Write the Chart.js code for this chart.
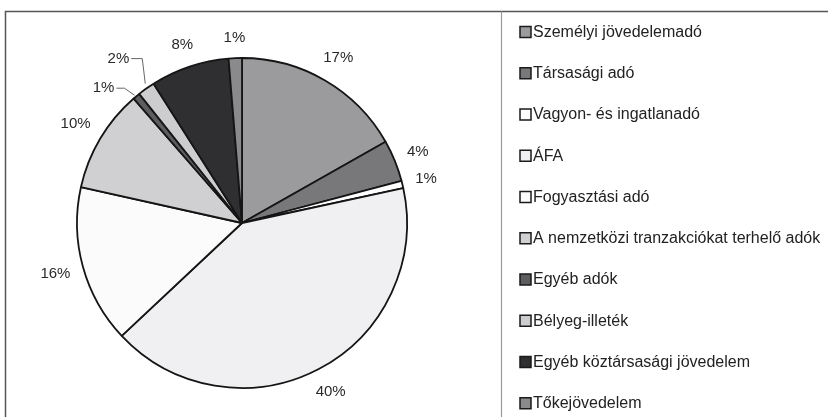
<!DOCTYPE html>
<html>
<head>
<meta charset="utf-8">
<script src="https://cdn.jsdelivr.net/npm/chart.js@4.4.1/dist/chart.umd.min.js"></script>
<style>
  html, body { margin: 0; padding: 0; background: #ffffff; overflow: hidden; }
  #wrap { position: relative; width: 828px; height: 417px; }
</style>
</head>
<body>
<div id="wrap"><canvas id="c" width="828" height="417"></canvas></div>
<script>
// ---- data ----
const categories = [
  "Személyi jövedelemadó",
  "Társasági adó",
  "Vagyon- és ingatlanadó",
  "ÁFA",
  "Fogyasztási adó",
  "A nemzetközi tranzakciókat terhelő adók",
  "Egyéb adók",
  "Bélyeg-illeték",
  "Egyéb köztársasági jövedelem",
  "Tőkejövedelem"
];
const shares = [16.8, 4.1, 0.7, 41.4, 15.5, 10.1, 0.7, 1.7, 7.7, 1.3];
const shareLabels = ["17%", "4%", "1%", "40%", "16%", "10%", "1%", "2%", "8%", "1%"];
const sliceColors = [
  "#9b9b9d", "#78787b", "#ffffff", "#f0f0f2", "#fbfbfb",
  "#d0d0d2", "#5d5d60", "#cdcdcf", "#2f2f31", "#8a8a8d"
];

const LABEL_FONT = '15px "Liberation Sans", Arial, sans-serif';
const LEGEND_FONT = '16px "Liberation Sans", Arial, sans-serif';

// frame around chart
const framePlugin = {
  id: 'frame',
  beforeDraw(chart) {
    const ctx = chart.ctx;
    ctx.save();
    ctx.fillStyle = '#ffffff';
    ctx.fillRect(0, 0, chart.width, chart.height);
    ctx.strokeStyle = '#555555';
    ctx.lineWidth = 1.5;
    ctx.beginPath();
    ctx.moveTo(5.5, chart.height);
    ctx.lineTo(5.5, 11.5);
    ctx.lineTo(chart.width, 11.5);
    ctx.stroke();
    ctx.strokeStyle = '#9a9a9a';
    ctx.lineWidth = 1.2;
    ctx.beginPath();
    ctx.moveTo(501.5, 11.5);
    ctx.lineTo(501.5, chart.height);
    ctx.stroke();
    ctx.restore();
  }
};

// percentage labels outside the slices
const outsideLabels = {
  id: 'outsideLabels',
  afterDatasetsDraw(chart, args, opts) {
    const ctx = chart.ctx;
    const meta = chart.getDatasetMeta(0);
    ctx.save();
    ctx.font = LABEL_FONT;
    ctx.fillStyle = '#2a2a2a';
    ctx.textBaseline = 'middle';
    ctx.textAlign = 'center';
    meta.data.forEach((arc, i) => {
      const p = arc.getProps(['x', 'y', 'startAngle', 'endAngle', 'outerRadius'], true);
      const a = (p.startAngle + p.endAngle) / 2;
      const cx = Math.cos(a), cy = Math.sin(a);
      const text = shareLabels[i];
      const w = ctx.measureText(text).width;
      const h = 15;
      const leader = (opts.leaders || []).find(l => l.index === i);
      if (leader) {
        const ex = p.x + cx * p.outerRadius;
        const ey = p.y + cy * p.outerRadius;
        const bx = ex + leader.dx, by = ey + leader.dy;
        const hx = bx - leader.len;
        ctx.strokeStyle = '#666666';
        ctx.lineWidth = 1;
        ctx.beginPath();
        ctx.moveTo(ex + leader.sx, ey + leader.sy);
        ctx.lineTo(bx, by);
        ctx.lineTo(hx, by);
        ctx.stroke();
        ctx.textAlign = 'right';
        ctx.fillText(text, hx - 2, by);
        ctx.textAlign = 'center';
      } else {
        const ext = Math.abs(cx) * w / 2 + Math.abs(cy) * h / 2;
        const d = p.outerRadius + opts.gap + ext;
        ctx.fillText(text, p.x + cx * d, p.y + cy * d);
      }
    });
    ctx.restore();
  }
};

// legend on the right
const sideLegend = {
  id: 'sideLegend',
  afterDraw(chart) {
    const ctx = chart.ctx;
    ctx.save();
    ctx.font = LEGEND_FONT;
    ctx.textBaseline = 'middle';
    ctx.textAlign = 'left';
    const x0 = 520, y0 = 32, step = 41.25, box = 11;
    chart.data.labels.forEach((lab, i) => {
      const y = y0 + i * step;
      ctx.fillStyle = chart.data.datasets[0].backgroundColor[i];
      ctx.fillRect(x0, y - box / 2, box, box);
      ctx.strokeStyle = '#1a1a1a';
      ctx.lineWidth = 1.5;
      ctx.strokeRect(x0, y - box / 2, box, box);
      ctx.fillStyle = '#222222';
      ctx.fillText(lab, x0 + box + 2, y + 0.5);
    });
    ctx.restore();
  }
};

new Chart(document.getElementById('c'), {
  type: 'pie',
  data: {
    labels: categories,
    datasets: [{
      data: shares,
      backgroundColor: sliceColors,
      borderColor: '#151515',
      borderWidth: 1.8,
      hoverOffset: 0,
      offset: 0
    }]
  },
  options: {
    responsive: false,
    animation: false,
    events: [],
    layout: { padding: { left: 76.1, right: 420.1, top: 57.1, bottom: 28.1 } },
    plugins: {
      legend: { display: false },
      tooltip: { enabled: false },
      outsideLabels: {
        gap: 12,
        leaders: [
          { index: 6, sx: -2, sy: -1, dx: -12, dy: -8, len: 8 },
          { index: 7, sx: -1, sy: -5, dx: -4, dy: -30, len: 11 }
        ]
      }
    }
  },
  plugins: [framePlugin, outsideLabels, sideLegend]
});
</script>
</body>
</html>
